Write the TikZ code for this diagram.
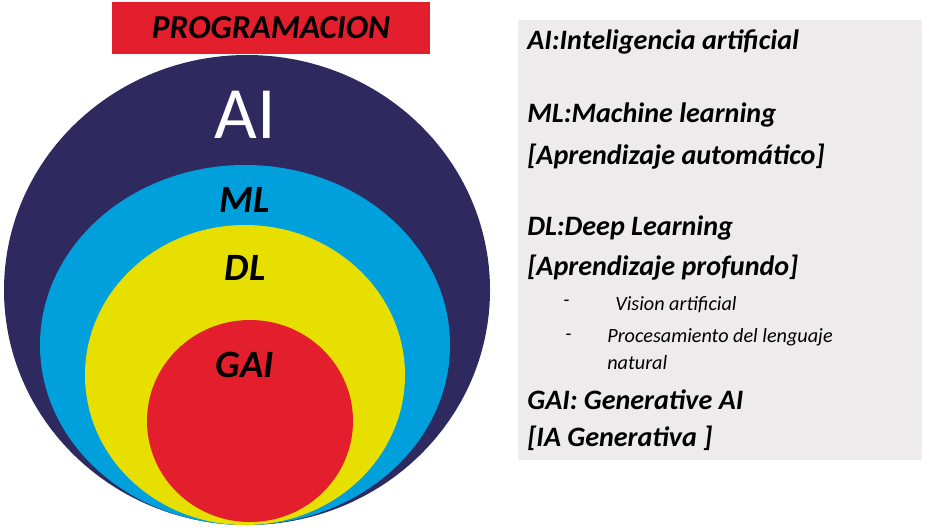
\documentclass[tikz,border=0pt]{standalone}
\usepackage{fontspec}
\setmainfont{Carlito}
\definecolor{navy}{HTML}{2E2A60}
\definecolor{cyanb}{HTML}{00A0DC}
\definecolor{yel}{HTML}{E6DF00}
\definecolor{redd}{HTML}{E31E2D}
\definecolor{boxg}{HTML}{EDEBEC}
\tikzset{
  lbl/.style={font=\fontsize{22pt}{24pt}\selectfont\bfseries\itshape},
  key/.style={anchor=west,inner sep=0pt,font=\fontsize{16pt}{18pt}\selectfont\bfseries\itshape},
  sub/.style={anchor=west,inner sep=0pt,font=\fontsize{11.5pt}{13pt}\selectfont\itshape}
}
\begin{document}
\begin{tikzpicture}[x=0.02cm,y=-0.02cm]
    \useasboundingbox (0,0) rectangle (942,531);
    
    %Circles
    \fill[navy] (247,290) ellipse (243 and 235);
    \fill[cyanb] (245,345) ellipse (205 and 180);
    \fill[yel] (245,375) ellipse (160 and 150);
    \fill[redd] (250,421) ellipse (103 and 101);
    
    %Title
    \node[fill=redd,minimum width=318*0.02cm,minimum height=52*0.02cm,lbl,font=\fontsize{19pt}{21pt}\selectfont\bfseries\itshape] (prog) at (271,28) {PROGRAMACION};
    
    %Labels
    \node[text=white,font=\fontsize{42pt}{44pt}\selectfont] (ai) at (245,115) {AI};
    \node[lbl] (ml) at (245,200) {ML};
    \node[lbl] (dl) at (245,268) {DL};
    \node[lbl] (gai) at (245,365) {GAI};
    
    %Legend
    \fill[boxg] (518,20) rectangle (922,460);
    \node[key] (kai) at (527,42) {AI:Inteligencia artificial};
    \node[key] (kml) at (527,115) {ML:Machine learning};
    \node[key] (kmlb) at (527,157) {[Aprendizaje automático]};
    \node[key] (kdl) at (527,228) {DL:Deep Learning};
    \node[key] (kdlb) at (527,268) {[Aprendizaje profundo]};
    \node[sub] (d1) at (563,303) {-};
    \node[sub] (v1) at (615,305) {Vision artificial};
    \node[sub] (d2) at (565,337) {-};
    \node[sub] (v2) at (607,337) {Procesamiento del lenguaje};
    \node[sub] (v3) at (607,363) {natural};
    \node[key] (kgai) at (527,400) {GAI: Generative AI};
    \node[key] (kgaib) at (527,438) {[IA Generativa ]};
\end{tikzpicture}
\end{document}
